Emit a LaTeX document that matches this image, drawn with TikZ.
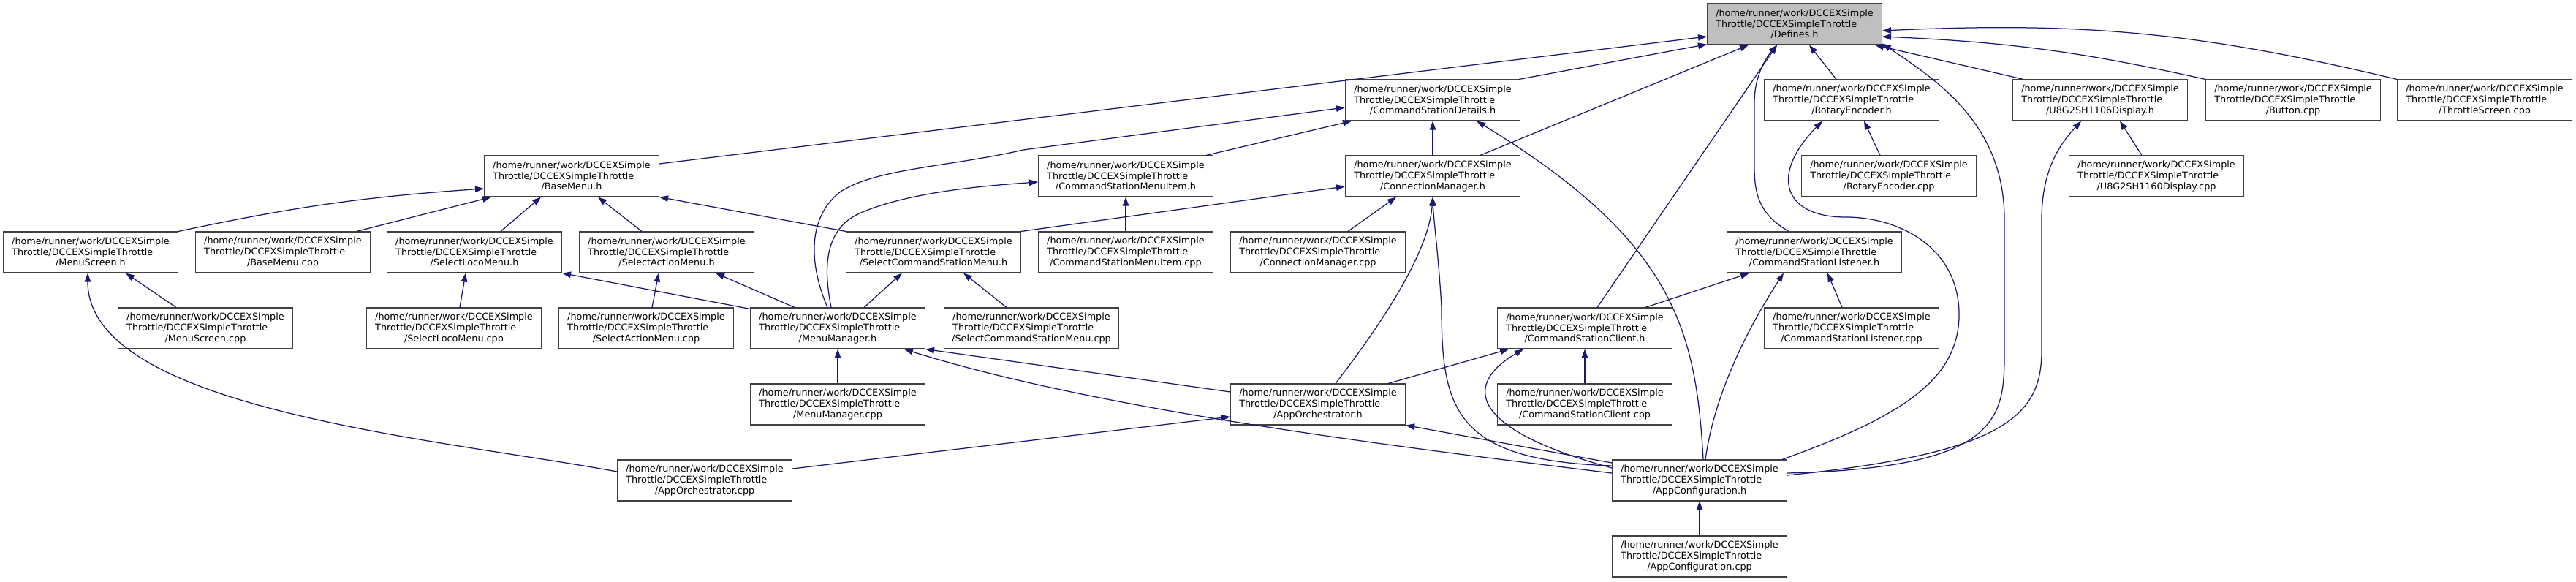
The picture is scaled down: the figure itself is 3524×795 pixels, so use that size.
\documentclass[tikz,border=0pt]{standalone}
\usepackage{fontspec}
\setmainfont{DejaVu Sans}
\definecolor{dxEdge}{RGB}{25,25,112}
\definecolor{dxLine}{RGB}{64,64,64}
\definecolor{dxGray}{RGB}{191,191,191}
\usetikzlibrary{arrows.meta}
\newlength{\dxw}
\newcommand{\dxfile}[1]{%
  \settowidth{\dxw}{/home/runner/work/DCCEXSimple}\global\dxw=\dxw
  \makebox[\dxw][l]{/home/runner/work/DCCEXSimple}\\
  \makebox[\dxw][l]{Throttle/DCCEXSimpleThrottle}\\/#1}

\begin{document}
\begin{tikzpicture}[
    x=1pt, y=-1pt,
    file/.style={rectangle, draw=dxLine, fill=white, line width=1.1pt,
                 minimum width=239pt, minimum height=56pt, inner xsep=11pt,
                 inner ysep=0pt, align=center,
                 font=\fontsize{12.8}{14.7}\selectfont},
    root/.style={file, fill=dxGray},
    dep/.style={draw=dxEdge, line width=1.25pt,
                -{Triangle[length=12pt,width=8.5pt]}}
  ]
  \def\rh{104}
  \useasboundingbox (0,0) rectangle (3524,795);

  \node[root] (defines)     at (2455, 33+0*\rh) {\dxfile{Defines.h}};

  \node[file] (csdetails)   at (1960, 33+1*\rh) {\dxfile{CommandStationDetails.h}};
  \node[file] (rench)       at (2533, 33+1*\rh) {\dxfile{RotaryEncoder.h}};
  \node[file] (u8gh)        at (2873, 33+1*\rh) {\dxfile{U8G2SH1106Display.h}};
  \node[file] (buttoncpp)   at (3137, 33+1*\rh) {\dxfile{Button.cpp}};
  \node[file] (throttlecpp) at (3399, 33+1*\rh) {\dxfile{ThrottleScreen.cpp}};

  \node[file] (basemenuh)   at (782,  33+2*\rh) {\dxfile{BaseMenu.h}};
  \node[file] (csmenuitemh) at (1540, 33+2*\rh) {\dxfile{CommandStationMenuItem.h}};
  \node[file] (connmgrh)    at (1960, 33+2*\rh) {\dxfile{ConnectionManager.h}};
  \node[file] (rencpp)      at (2584, 33+2*\rh) {\dxfile{RotaryEncoder.cpp}};
  \node[file] (u8gcpp)      at (2950, 33+2*\rh) {\dxfile{U8G2SH1160Display.cpp}};

  \node[file] (menuscreenh)   at (124,  33+3*\rh) {\dxfile{MenuScreen.h}};
  \node[file] (basemenucpp)   at (387,  33+3*\rh) {\dxfile{BaseMenu.cpp}};
  \node[file] (selectlocoh)   at (649,  33+3*\rh) {\dxfile{SelectLocoMenu.h}};
  \node[file] (selectactionh) at (912,  33+3*\rh) {\dxfile{SelectActionMenu.h}};
  \node[file] (selectcsh)     at (1277, 33+3*\rh) {\dxfile{SelectCommandStationMenu.h}};
  \node[file] (csmenuitemcpp) at (1540, 33+3*\rh) {\dxfile{CommandStationMenuItem.cpp}};
  \node[file] (connmgrcpp)    at (1803, 33+3*\rh) {\dxfile{ConnectionManager.cpp}};
  \node[file] (cslistenerh)   at (2482, 33+3*\rh) {\dxfile{CommandStationListener.h}};

  \node[file] (menuscreencpp)   at (281,  33+4*\rh) {\dxfile{MenuScreen.cpp}};
  \node[file] (selectlococpp)   at (621,  33+4*\rh) {\dxfile{SelectLocoMenu.cpp}};
  \node[file] (selectactioncpp) at (884,  33+4*\rh) {\dxfile{SelectActionMenu.cpp}};
  \node[file] (menumgrh)        at (1146, 33+4*\rh) {\dxfile{MenuManager.h}};
  \node[file] (selectcscpp)     at (1411, 33+4*\rh) {\dxfile{SelectCommandStationMenu.cpp}};
  \node[file] (csclienth)       at (2168, 33+4*\rh) {\dxfile{CommandStationClient.h}};
  \node[file] (cslistenercpp)   at (2533, 33+4*\rh) {\dxfile{CommandStationListener.cpp}};

  \node[file] (menumgrcpp)  at (1146, 33+5*\rh) {\dxfile{MenuManager.cpp}};
  \node[file] (appOrchh)    at (1803, 33+5*\rh) {\dxfile{AppOrchestrator.h}};
  \node[file] (csclientcpp) at (2168, 33+5*\rh) {\dxfile{CommandStationClient.cpp}};

  \node[file] (appOrchcpp)  at (964,  33+6*\rh) {\dxfile{AppOrchestrator.cpp}};
  \node[file] (appconfh)    at (2325, 33+6*\rh) {\dxfile{AppConfiguration.h}};

  \node[file] (appconfcpp)  at (2325, 33+7*\rh) {\dxfile{AppConfiguration.cpp}};

  % into Defines.h
  \draw[dep] ([yshift=17pt]basemenuh.east) -- ([yshift=-17pt]defines.west);
  \draw[dep] ([xshift=-2pt]csdetails.north east) -- ([yshift=1pt]defines.south west);
  \draw[dep] ([xshift=65pt]connmgrh.north) -- ([xshift=-63pt]defines.south);
  \draw[dep] ([xshift=17pt]csclienth.north) -- ([xshift=-24pt]defines.south);
  \draw[dep] ([xshift=-35pt]cslistenerh.north) .. controls (2410,295) and (2400,270) .. (2400,230)
    -- (2400,140) .. controls (2400,105) and (2415,80) .. ([xshift=-24pt]defines.south);
  \draw[dep] ([xshift=-21pt]rench.north) -- ([xshift=20pt]defines.south);
  \draw[dep] ([xshift=-105pt]u8gh.north) -- ([xshift=110pt]defines.south);
  \draw[dep] (buttoncpp.north west) to[bend right=5] ([yshift=-17pt]defines.east);
  \draw[dep] (throttlecpp.north west) to[bend right=8] ([yshift=-9pt]defines.east);
  \draw[dep] ([yshift=10pt]appconfh.east) .. controls (2740,640) and (2742,570) .. (2742,480)
    -- (2742,300) .. controls (2742,170) and (2650,110) .. ([yshift=2pt]defines.south east);

  \draw[dep] ([xshift=-12pt]rencpp.north) -- ([xshift=17pt]rench.south);
  \draw[dep] ([xshift=-7pt]appconfh.north east) .. controls (2600,570) and (2680,520) .. (2680,430)
    .. controls (2680,340) and (2600,297) .. (2525,297)
    .. controls (2440,297) and (2420,240) .. ([xshift=-40pt]rench.south);
  \draw[dep] ([xshift=-20pt]u8gcpp.north) -- ([xshift=27pt]u8gh.south);
  \draw[dep] ([yshift=7pt]appconfh.east) .. controls (2740,620) and (2793,570) .. (2793,480)
    -- (2793,300) .. controls (2793,230) and (2820,195) .. ([xshift=-26pt]u8gh.south);

  \draw[dep] (connmgrh.north) -- (csdetails.south);
  \draw[dep] ([xshift=-10pt]csmenuitemh.north east) -- ([xshift=9pt]csdetails.south west);
  \draw[dep] ([xshift=-14pt]menumgrh.north) .. controls (1110,370) and (1100,300) .. (1150,262)
    .. controls (1200,230) and (1300,228) .. (1400,205) -- ([yshift=-10pt]csdetails.west);
  \draw[dep] ([xshift=5pt]appconfh.north) .. controls (2320,450) and (2290,330) .. ([xshift=60pt]csdetails.south);

  \draw[dep] ([xshift=41pt]connmgrcpp.north) -- ([xshift=-50pt]connmgrh.south);
  \draw[dep] ([xshift=24pt]appOrchh.north) .. controls (1900,430) and (1955,340) .. (connmgrh.south);
  \draw[dep] ([yshift=20pt]appconfh.west) .. controls (1990,630) and (1972,560) .. (1972,420)
    .. controls (1968,350) and (1961,300) .. (connmgrh.south);
  \draw[dep] (selectcsh.north east) -- ([yshift=-14pt]connmgrh.west);

  \draw[dep] (csmenuitemcpp.north) -- (csmenuitemh.south);
  \draw[dep] ([xshift=-9pt]menumgrh.north) .. controls (1125,360) and (1130,310) .. (1180,290)
    .. controls (1240,265) and (1330,255) .. ([yshift=-8pt]csmenuitemh.west);

  \draw[dep] (menuscreenh.north east) to[bend left=4] ([yshift=-17pt]basemenuh.west);
  \draw[dep] ([xshift=101pt]basemenucpp.north) -- ([xshift=10pt]basemenuh.south west);
  \draw[dep] ([xshift=36pt]selectlocoh.north) -- ([xshift=-42pt]basemenuh.south);
  \draw[dep] ([xshift=-34pt]selectactionh.north) -- ([xshift=36pt]basemenuh.south);
  \draw[dep] (selectcsh.north west) -- (basemenuh.south east);

  \draw[dep] ([xshift=-40pt]menuscreencpp.north) -- ([xshift=48pt]menuscreenh.south);
  \draw[dep] ([yshift=12pt]appOrchcpp.west) .. controls (600,600) and (120,560) .. ([xshift=-4pt]menuscreenh.south);

  \draw[dep] ([xshift=8pt]selectlococpp.north) -- ([xshift=-12pt]selectlocoh.south);
  \draw[dep] ([yshift=-2pt]menumgrh.north west) -- (selectlocoh.south east);
  \draw[dep] ([xshift=8pt]selectactioncpp.north) -- ([xshift=-11pt]selectactionh.south);
  \draw[dep] ([xshift=-59pt]menumgrh.north) -- ([xshift=67pt]selectactionh.south);
  \draw[dep] ([xshift=36pt]menumgrh.north) -- ([xshift=-43pt]selectcsh.south);
  \draw[dep] ([xshift=-34pt]selectcscpp.north) -- ([xshift=41pt]selectcsh.south);

  \draw[dep] (menumgrcpp.north) -- (menumgrh.south);
  \draw[dep] ([yshift=17pt]appOrchh.west) -- (menumgrh.south east);
  \draw[dep] ([yshift=10pt]appconfh.west) .. controls (1900,610) and (1500,560) .. ([xshift=91pt]menumgrh.south);

  \draw[dep] ([yshift=16pt]appOrchcpp.east) -- ([yshift=-17pt]appOrchh.west);
  \draw[dep] ([yshift=24pt]appconfh.west) -- (appOrchh.south east);

  \draw[dep] ([xshift=96pt]appOrchh.north) -- ([xshift=-104pt]csclienth.south);
  \draw[dep] (csclientcpp.north) -- (csclienth.south);
  \draw[dep] ([yshift=17pt]appconfh.west) .. controls (2020,590) and (1995,530) .. ([xshift=-84pt]csclienth.south);
  \draw[dep] ([xshift=83pt]csclienth.north) -- ([xshift=-89pt]cslistenerh.south);
  \draw[dep] ([xshift=-13pt]cslistenercpp.north) -- ([xshift=18pt]cslistenerh.south);
  \draw[dep] ([xshift=8pt]appconfh.north) .. controls (2345,540) and (2390,450) .. ([xshift=-42pt]cslistenerh.south);

  \draw[dep] (appconfcpp.north) -- (appconfh.south);
\end{tikzpicture}
\end{document}
